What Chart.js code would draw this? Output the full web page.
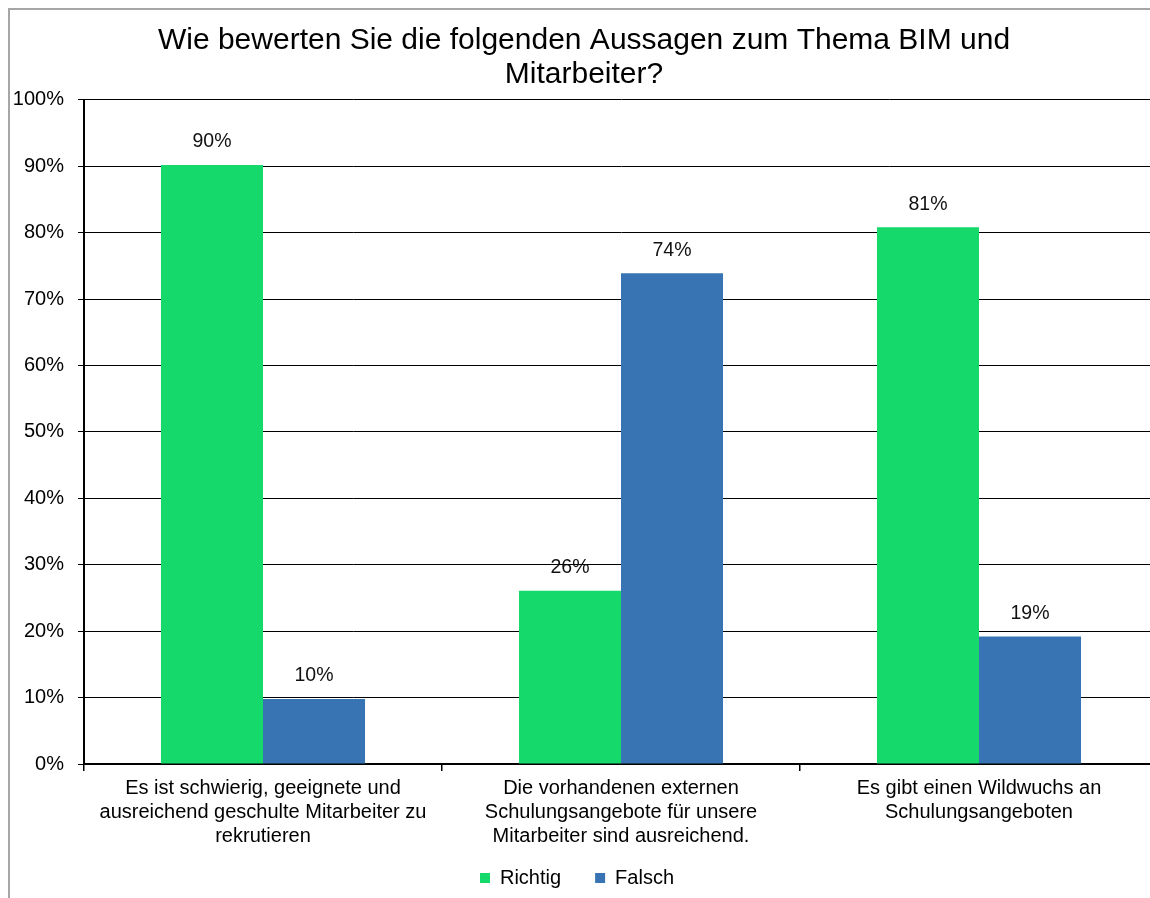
<!DOCTYPE html>
<html>
<head>
<meta charset="utf-8">
<script src="https://cdn.jsdelivr.net/npm/chart.js@4.4.1/dist/chart.umd.min.js"></script>
<style>
    html, body { margin: 0; padding: 0; background: #fff; overflow: hidden; width: 1150px; height: 898px; }
    #frame { position: absolute; left: 8px; top: 8px; border-left: 2px solid #a6a6a6; border-top: 2px solid #a6a6a6; width: 1160px; height: 900px; }
    #chart { display: block; }
</style>
</head>
<body>
<div id="frame"><canvas id="chart" width="1160" height="888"></canvas></div>
<script>
const TITLE = ["Wie bewerten Sie die folgenden Aussagen zum Thema BIM und", "Mitarbeiter?"];

const CATEGORIES = [
    ["Es ist schwierig, geeignete und", "ausreichend geschulte Mitarbeiter zu", "rekrutieren"],
    ["Die vorhandenen externen", "Schulungsangebote für unsere", "Mitarbeiter sind ausreichend."],
    ["Es gibt einen Wildwuchs an", "Schulungsangeboten"],
];

const RICHTIG = [90.2, 26.1, 80.8];
const FALSCH = [9.8, 73.9, 19.2];

const Y_TICKS = [0, 10, 20, 30, 40, 50, 60, 70, 80, 90, 100];

const FONT = "'Liberation Sans', Arial, sans-serif";

// draws the rounded percent above each bar
const barLabels = {
    id: "barLabels",
    afterDatasetsDraw(chart) {
        const ctx = chart.ctx;
        ctx.save();
        ctx.font = "19.5px " + FONT;
        ctx.fillStyle = "#111";
        ctx.textAlign = "center";
        ctx.textBaseline = "middle";
        chart.data.datasets.forEach((ds, i) => {
            chart.getDatasetMeta(i).data.forEach((bar, j) => {
                ctx.fillText(Math.round(ds.data[j]) + "%", bar.x, bar.y - 23);
            });
        });
        ctx.restore();
    },
};

let chart = new Chart(document.getElementById("chart"), {
    type: "bar",
    data: {
        labels: CATEGORIES,
        datasets: [
            { label: "Richtig", data: RICHTIG, backgroundColor: "#16d96b" },
            { label: "Falsch", data: FALSCH, backgroundColor: "#3874b4" },
        ],
    },
    options: {
        responsive: false,
        animation: false,
        layout: { padding: { left: 0, right: 12, top: 0, bottom: 0 } },
        datasets: { bar: { categoryPercentage: 0.57, barPercentage: 1.0 } },
        plugins: {
            title: {
                display: true,
                text: TITLE,
                color: "#000",
                font: { family: FONT, size: 30, weight: "normal", lineHeight: 1.13 },
                padding: { top: 14, bottom: 8 },
            },
            legend: {
                position: "bottom",
                labels: {
                    color: "#000",
                    font: { family: FONT, size: 20 },
                    boxWidth: 10,
                    boxHeight: 10,
                    padding: 20,
                    // a bit of trailing space to widen the gap between the two items
                    generateLabels: (chart) =>
                        Chart.defaults.plugins.legend.labels.generateLabels(chart).map((item) => {
                            item.text = item.text + "\u2002\u2009";
                            return item;
                        }),
                },
            },
            tooltip: { enabled: false },
        },
        scales: {
            x: {
                offset: true,
                grid: {
                    offset: true,
                    drawOnChartArea: false,
                    color: "#000",
                    lineWidth: 1.5,
                    tickLength: 7,
                },
                border: { color: "#000", width: 2 },
                ticks: {
                    color: "#000",
                    font: { family: FONT, size: 20, lineHeight: 1.2 },
                    maxRotation: 0,
                    autoSkip: false,
                    padding: 5,
                },
                afterFit: function (axis) {
                    axis.height = 84;
                },
            },
            y: {
                min: 0,
                max: 100,
                afterBuildTicks: function (axis) {
                    axis.ticks = Y_TICKS.map((v) => ({ value: v }));
                },
                grid: { color: "#000", lineWidth: 1, tickLength: 6 },
                border: { color: "#000", width: 2 },
                ticks: {
                    color: "#000",
                    font: { family: FONT, size: 20 },
                    padding: 14,
                    callback: (v) => v + "%",
                },
                afterFit: function (axis) {
                    axis.width = 74;
                },
            },
        },
    },
    plugins: [barLabels],
});
</script>
</body>
</html>
